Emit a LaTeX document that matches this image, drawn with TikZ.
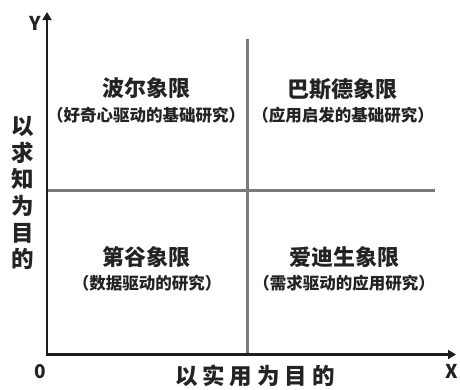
\documentclass[tikz,border=0pt]{standalone}
\usepackage{fontspec}
\newfontfamily\cjk{Noto Sans CJK SC Black}
\usetikzlibrary{arrows.meta}
\definecolor{axiscol}{RGB}{30,30,30}
\definecolor{divcol}{RGB}{122,122,122}
\definecolor{txtcol}{RGB}{35,35,35}
\begin{document}
\begin{tikzpicture}[x=1pt,y=-1pt,
  axis/.style={draw=axiscol,line width=2.6pt,-{Triangle[length=8pt,width=9pt]}},
  divider/.style={draw=divcol,line width=3pt},
  title/.style={font=\cjk\fontsize{22}{24}\selectfont,text=txtcol,inner sep=0pt},
  sub/.style={font=\cjk\fontsize{16.5}{18}\selectfont,text=txtcol,inner sep=0pt},
  axlabel/.style={font=\cjk\fontsize{22.5}{26.7}\selectfont,text=txtcol,inner sep=0pt,align=center},
  letter/.style={font=\cjk\fontsize{19}{20}\selectfont,text=txtcol,inner sep=0pt}]
\useasboundingbox (0,0) rectangle (460,389);
\coordinate (O) at (47,354.5);
\coordinate (Ytop) at (47,12);
\coordinate (Xend) at (456,354.5);
\coordinate (Vtop) at (247.5,39);
\coordinate (Vbot) at (247.5,354.5);
\coordinate (Hl) at (47,190.5);
\coordinate (Hr) at (435,190.5);
\draw[divider] (Vtop) -- (Vbot);
\draw[divider] (Hl) -- (Hr);
\draw[axis] (O) -- (Ytop);
\draw[axis] (O) -- (Xend);
\draw[draw=axiscol,line width=2.6pt] ([xshift=-1.3pt]O) -- ([xshift=2pt]O);
\node[letter] (ylab) at (35,23) {Y};
\node[letter] (xlab) at (452,371) {X};
\node[letter] (olab) at (40,372) {0};
\node[title] (q1) at (146,88) {波尔象限};
\node[sub] (q1s) at (146,115) {（好奇心驱动的基础研究）};
\node[title] (q2) at (342,89) {巴斯德象限};
\node[sub] (q2s) at (343,115) {（应用启发的基础研究）};
\node[title] (q3) at (146,257) {第谷象限};
\node[sub] (q3s) at (147,283) {（数据驱动的研究）};
\node[title] (q4) at (344,257) {爱迪生象限};
\node[sub] (q4s) at (344,283) {（需求驱动的应用研究）};
\node[axlabel] (left) at (23,193) {以\\求\\知\\为\\目\\的};
\node[axlabel] (bottom) at (255,376) {以\hspace{5pt}实\hspace{5pt}用\hspace{5pt}为\hspace{5pt}目\hspace{5pt}的};
\end{tikzpicture}
\end{document}
